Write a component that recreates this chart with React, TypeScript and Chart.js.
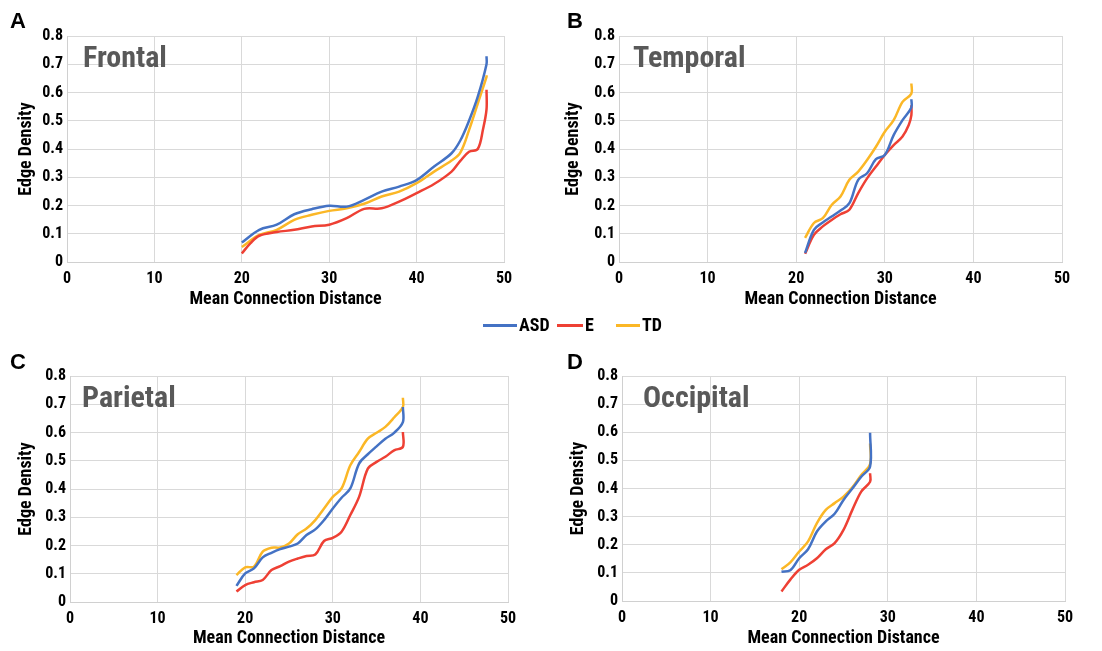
import React, { useEffect, useRef } from 'react';
import { Chart, registerables } from 'chart.js';
Chart.register(...registerables);

const NARROW = "'Roboto Condensed', 'Open Sans Condensed', 'Liberation Sans', Arial, sans-serif";
const WIDE = "'Liberation Sans', Arial, sans-serif";

const COLOR_ASD = '#4472C4';
const COLOR_E = '#EE4034';
const COLOR_TD = '#FBB726';

const seriesNames = ['ASD', 'E', 'TD'];
const xTicks = [0, 10, 20, 30, 40, 50];
const yTicks = [0, 0.1, 0.2, 0.3, 0.4, 0.5, 0.6, 0.7, 0.8];

// Frontal
const frontalAsdX = [20, 22, 24, 26, 28, 30, 32, 34, 36, 38, 40, 42, 44, 45, 46, 47, 48, 48];
const frontalAsdY = [0.069, 0.114, 0.132, 0.169, 0.187, 0.199, 0.196, 0.22, 0.249, 0.267, 0.29, 0.338, 0.385, 0.43, 0.5, 0.585, 0.7, 0.728];
const frontalEX = [20, 21, 22, 24, 26, 28, 30, 32, 34, 36, 38, 40, 42, 44, 45, 46, 47, 47.6, 48, 48];
const frontalEY = [0.03, 0.067, 0.093, 0.106, 0.114, 0.126, 0.132, 0.155, 0.188, 0.19, 0.214, 0.244, 0.276, 0.32, 0.358, 0.39, 0.4, 0.47, 0.54, 0.61];
const frontalTdX = [20, 22, 24, 26, 28, 30, 32, 34, 36, 38, 40, 42, 44, 45, 46, 47, 48, 48];
const frontalTdY = [0.053, 0.096, 0.114, 0.149, 0.167, 0.181, 0.19, 0.206, 0.232, 0.249, 0.279, 0.32, 0.359, 0.387, 0.467, 0.561, 0.655, 0.661];

// Temporal
const temporalX = [21, 22, 23, 24, 25, 26, 27, 28, 29, 30, 31, 32, 33, 33];
const temporalAsdY = [0.032, 0.114, 0.14, 0.161, 0.182, 0.208, 0.291, 0.314, 0.364, 0.379, 0.449, 0.502, 0.547, 0.576];
const temporalTdY = [0.085, 0.138, 0.155, 0.202, 0.232, 0.291, 0.32, 0.361, 0.408, 0.461, 0.502, 0.567, 0.596, 0.632];
const temporalEX = [21, 22, 23, 24, 25, 26, 27, 28, 29, 30, 31, 32, 32.7, 33, 33];
const temporalEY = [0.029, 0.096, 0.126, 0.149, 0.169, 0.185, 0.244, 0.296, 0.338, 0.379, 0.414, 0.444, 0.485, 0.52, 0.555];

// Parietal
const parietalX = [19, 20, 21, 22, 23, 24, 25, 26, 27, 28, 29, 30, 31, 32, 33, 34, 35, 36, 37, 38, 38];
const parietalAsdY = [0.057, 0.101, 0.119, 0.158, 0.174, 0.187, 0.196, 0.207, 0.237, 0.257, 0.29, 0.331, 0.369, 0.402, 0.49, 0.523, 0.551, 0.578, 0.599, 0.637, 0.69];
const parietalTdY = [0.095, 0.123, 0.125, 0.178, 0.192, 0.193, 0.207, 0.24, 0.26, 0.29, 0.331, 0.372, 0.402, 0.484, 0.531, 0.578, 0.599, 0.62, 0.653, 0.69, 0.723];
const parietalEY = [0.037, 0.06, 0.07, 0.078, 0.113, 0.127, 0.143, 0.154, 0.163, 0.168, 0.216, 0.227, 0.249, 0.308, 0.372, 0.472, 0.496, 0.514, 0.537, 0.549, 0.602];

// Occipital
const occipitalX = [18, 19, 20, 21, 22, 23, 24, 25, 26, 27, 28, 28];
const occipitalAsdY = [0.104, 0.109, 0.152, 0.184, 0.247, 0.283, 0.31, 0.359, 0.4, 0.442, 0.478, 0.598];
const occipitalTdY = [0.113, 0.137, 0.176, 0.212, 0.277, 0.324, 0.348, 0.371, 0.404, 0.448, 0.487, 0.56];
const occipitalEY = [0.034, 0.076, 0.111, 0.129, 0.152, 0.184, 0.206, 0.253, 0.324, 0.389, 0.424, 0.454];

const zip = (xs: number[], ys: number[]) => xs.map((x, i) => ({ x, y: ys[i] }));

type PanelDef = {
  letter: string;
  title: string;
  cx: number; cy: number; cw: number; ch: number;
  areaLeft: number; areaTop: number; areaRight: number; areaBottom: number;
  titleDx: number;
  yTitlePad: number;
  letterX: number; letterY: number;
  asd: { x: number; y: number }[];
  e: { x: number; y: number }[];
  td: { x: number; y: number }[];
};

const panels: PanelDef[] = [
  {
    letter: 'A', title: 'Frontal', cx: 0, cy: 0, cw: 548, ch: 312,
    areaLeft: 67, areaTop: 36, areaRight: 504, areaBottom: 262, titleDx: 16, yTitlePad: 16,
    letterX: 10, letterY: 9,
    asd: zip(frontalAsdX, frontalAsdY), e: zip(frontalEX, frontalEY), td: zip(frontalTdX, frontalTdY),
  },
  {
    letter: 'B', title: 'Temporal', cx: 552, cy: 0, cw: 550, ch: 312,
    areaLeft: 619, areaTop: 36, areaRight: 1062, areaBottom: 262, titleDx: 14, yTitlePad: 11,
    letterX: 567, letterY: 9,
    asd: zip(temporalX, temporalAsdY), e: zip(temporalEX, temporalEY), td: zip(temporalX, temporalTdY),
  },
  {
    letter: 'C', title: 'Parietal', cx: 0, cy: 340, cw: 548, ch: 311,
    areaLeft: 70, areaTop: 376, areaRight: 508, areaBottom: 602, titleDx: 12, yTitlePad: 16,
    letterX: 10, letterY: 350,
    asd: zip(parietalX, parietalAsdY), e: zip(parietalX, parietalEY), td: zip(parietalX, parietalTdY),
  },
  {
    letter: 'D', title: 'Occipital', cx: 552, cy: 340, cw: 550, ch: 311,
    areaLeft: 622, areaTop: 376, areaRight: 1065, areaBottom: 601, titleDx: 21, yTitlePad: 16,
    letterX: 567, letterY: 350,
    asd: zip(occipitalX, occipitalAsdY), e: zip(occipitalX, occipitalEY), td: zip(occipitalX, occipitalTdY),
  },
];

function Panel({ p }: { p: PanelDef }) {
  const ref = useRef<HTMLCanvasElement | null>(null);
  useEffect(() => {
    if (!ref.current) return;
    const yW = p.areaLeft - p.cx;
    const xH = p.cy + p.ch - p.areaBottom;
    const titlePlugin = {
      id: 'innerTitle',
      afterDatasetsDraw(chart: any) {
        const { ctx, chartArea } = chart;
        ctx.save();
        ctx.font = `bold 30px ${NARROW}`;
        ctx.fillStyle = '#595959';
        ctx.textBaseline = 'alphabetic';
        ctx.textAlign = 'left';
        ctx.fillText(p.title, chartArea.left + p.titleDx, chartArea.top + 31);
        ctx.restore();
      },
    };
    const ds = (label: string, data: any[], color: string) => ({
      label, data, borderColor: color, backgroundColor: color,
      showLine: true, pointRadius: 0, borderWidth: 2.5, tension: 0.35, fill: false,
    });
    const chart = new Chart(ref.current, {
      type: 'scatter',
      data: {
        datasets: [
          ds(seriesNames[0], p.asd, COLOR_ASD),
          ds(seriesNames[1], p.e, COLOR_E),
          ds(seriesNames[2], p.td, COLOR_TD),
        ],
      },
      options: {
        animation: false,
        responsive: false,
        maintainAspectRatio: false,
        layout: { padding: { top: p.areaTop - p.cy, right: p.cx + p.cw - p.areaRight, left: 0, bottom: 0 } },
        plugins: { legend: { display: false }, tooltip: { enabled: false } },
        scales: {
          x: {
            type: 'linear', min: 0, max: 50,
            afterBuildTicks: (s: any) => { s.ticks = xTicks.map((v) => ({ value: v })); },
            afterFit: (s: any) => { s.height = xH; },
            grid: { color: '#d9d9d9', lineWidth: 1, drawTicks: false },
            border: { color: '#d0d0d0', width: 1 },
            ticks: { padding: 7, color: '#000', font: { family: NARROW, size: 16, weight: 'bold' } },
            title: { display: true, text: 'Mean Connection Distance', color: '#000', padding: { top: 0, bottom: 2 }, font: { family: NARROW, size: 18, weight: 'bold' } },
          },
          y: {
            type: 'linear', min: 0, max: 0.8,
            afterBuildTicks: (s: any) => { s.ticks = yTicks.map((v) => ({ value: v })); },
            afterFit: (s: any) => { s.width = yW; },
            grid: { color: '#d9d9d9', lineWidth: 1, drawTicks: false },
            border: { color: '#d0d0d0', width: 1 },
            ticks: {
              padding: 4, color: '#000', font: { family: NARROW, size: 16, weight: 'bold' },
              callback: (v: any) => (Number(v) === 0 ? '0' : Number(v).toFixed(1)),
            },
            title: { display: true, text: 'Edge Density', color: '#000', padding: { top: p.yTitlePad, bottom: 0 }, font: { family: NARROW, size: 18, weight: 'bold' } },
          },
        },
      } as any,
      plugins: [titlePlugin],
    });
    return () => chart.destroy();
  }, [p]);
  return (
    <>
      <canvas ref={ref} width={p.cw} height={p.ch} style={{ position: 'absolute', left: p.cx, top: p.cy, width: p.cw, height: p.ch }} />
      <div style={{ position: 'absolute', left: p.letterX, top: p.letterY, font: `bold 22px ${WIDE}`, color: '#000', lineHeight: '24px' }}>{p.letter}</div>
    </>
  );
}

const legendColors = [COLOR_ASD, COLOR_E, COLOR_TD];
const legendLineX = [483, 557, 616];
const legendLineW = [34, 26, 24];
const legendTextX = [519, 585, 642];

export default function App() {
  return (
    <div style={{ position: 'absolute', left: 0, top: 0, width: 1102, height: 651, background: '#fff', overflow: 'hidden' }}>
      {panels.map((p) => <Panel key={p.letter} p={p} />)}
      {seriesNames.map((n, i) => (
        <React.Fragment key={n}>
          <div style={{ position: 'absolute', left: legendLineX[i], top: 324, width: legendLineW[i], height: 2.5, background: legendColors[i] }} />
          <div style={{ position: 'absolute', left: legendTextX[i], top: 314, font: `bold 18px ${NARROW}`, lineHeight: '22px', color: '#000' }}>{n}</div>
        </React.Fragment>
      ))}
    </div>
  );
}
